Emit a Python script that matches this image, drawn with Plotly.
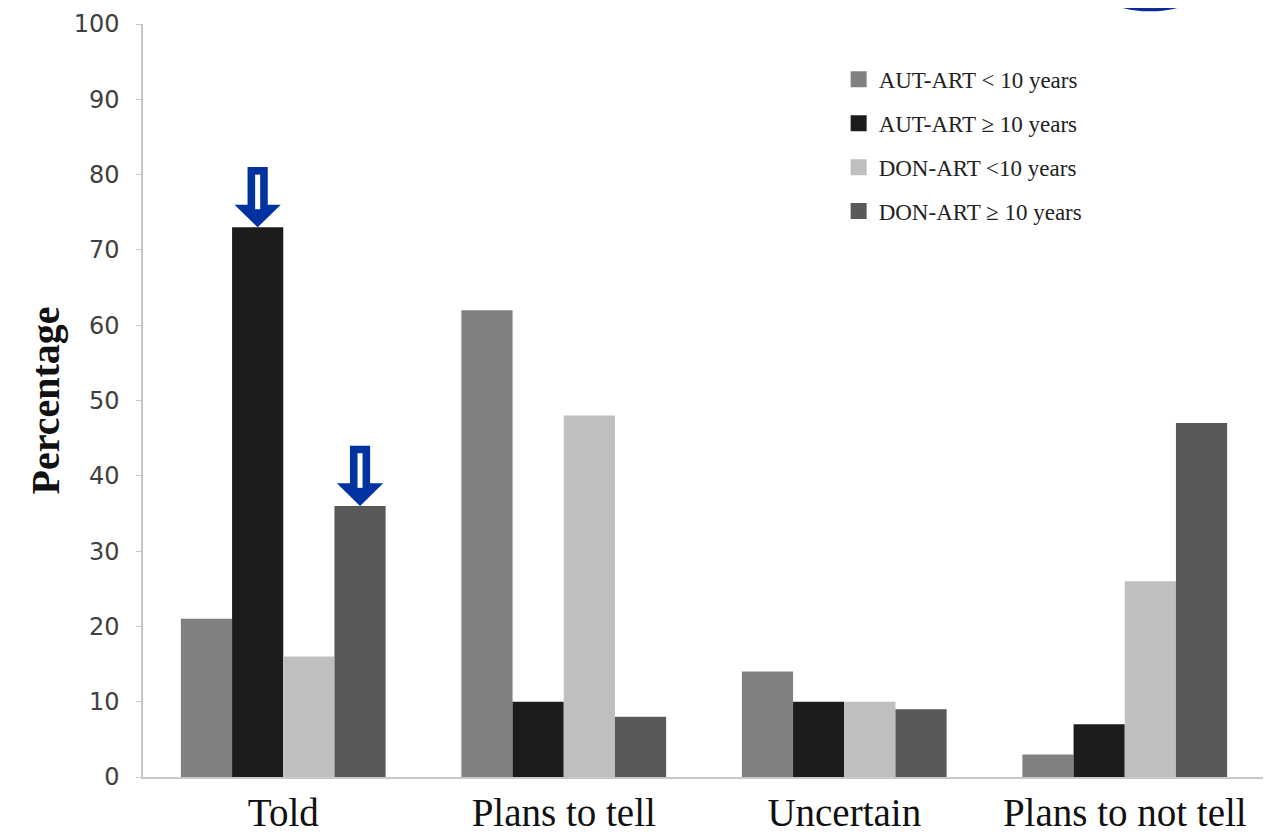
import plotly.graph_objects as go

categories = ["Told", "Plans to tell", "Uncertain", "Plans to not tell"]
series_names = ["AUT-ART < 10 years", "AUT-ART \u2265 10 years", "DON-ART <10 years", "DON-ART \u2265 10 years"]
aut_lt10 = [21, 62, 14, 3]
aut_ge10 = [73, 10, 10, 7]
don_lt10 = [16, 48, 10, 26]
don_ge10 = [36, 8, 9, 47]
series_values = [aut_lt10, aut_ge10, don_lt10, don_ge10]
colors = ["#808080", "#1c1c1c", "#bfbfbf", "#595959"]
y_ticks = list(range(0, 101, 10))
# arrows point at: (series index, category index)
arrow_targets = [(1, 0), (3, 0)]

BARGAP = 0.27

fig = go.Figure()
for name, vals, col in zip(series_names, series_values, colors):
    fig.add_trace(go.Bar(x=categories, y=vals, name=name, marker=dict(color=col, line=dict(width=0)),
                         showlegend=False))
# legend entries with larger square swatches
for name, col in zip(series_names, colors):
    fig.add_trace(go.Scatter(x=[None], y=[None], mode="markers", name=name, legendgroup=name,
                             marker=dict(symbol="square", size=22, color=col)))

# block arrows computed from bar positions
nser = len(series_values)
bw = (1 - BARGAP) / nser
head_w = 0.165
shaft_w = 0.072
stripe_w = 0.018
arrow_color = "#0033a0"
for si, ci in arrow_targets:
    xc = ci - (1 - BARGAP) / 2 + (si + 0.5) * bw
    tip = series_values[si][ci]
    hb = tip + 3.0
    top = tip + 8.0
    path = (f"M {xc - shaft_w/2} {top} L {xc + shaft_w/2} {top} L {xc + shaft_w/2} {hb} "
            f"L {xc + head_w/2} {hb} L {xc} {tip} L {xc - head_w/2} {hb} L {xc - shaft_w/2} {hb} Z")
    fig.add_shape(type="path", path=path, xref="x", yref="y", fillcolor=arrow_color,
                  line=dict(width=0), layer="above")
    fig.add_shape(type="rect", x0=xc - stripe_w/2, x1=xc + stripe_w/2, y0=top - 1.0, y1=hb - 0.6,
                  xref="x", yref="y", fillcolor="white", line=dict(width=0), layer="above")

# sliver of a logo at the very top right
fig.add_shape(type="circle", xref="paper", yref="paper", x0=0.845, x1=0.95, y0=1.0188, y1=1.1,
              fillcolor="#9b3050", line=dict(color="#0a2a9a", width=3), layer="above")

fig.update_layout(
    width=1271, height=839,
    paper_bgcolor="white", plot_bgcolor="white",
    margin=dict(l=135, r=14, t=16, b=70, autoexpand=False),
    barmode="group", bargap=BARGAP, bargroupgap=0,
    showlegend=True,
    legend=dict(x=0.62, y=0.955, xanchor="left", yanchor="top",
                font=dict(family="Liberation Serif, Times New Roman, serif", size=23, color="#222222"),
                tracegroupgap=11, bgcolor="rgba(0,0,0,0)", itemwidth=30, itemsizing="trace"),
    xaxis=dict(showline=True, linecolor="#c8c8c8", linewidth=1.5, ticks="", showgrid=False,
               ticklabelstandoff=0, automargin=False,
               tickfont=dict(family="Liberation Serif, Times New Roman, serif", size=39, color="#111111"),
               range=[-0.5, 3.5]),
    yaxis=dict(range=[0, 100], tickvals=y_ticks, showgrid=False, zeroline=False,
               showline=True, linecolor="#c8c8c8", linewidth=1.5, ticks="outside", ticklen=5,
               tickcolor="#c8c8c8", ticklabelstandoff=12, ticklabeloverflow="allow", automargin=False,
               tickfont=dict(family="DejaVu Sans, Verdana, sans-serif", size=24, color="#404040"),
               title=dict(text="<b>Percentage</b>", standoff=2,
                          font=dict(family="Liberation Serif, Times New Roman, serif", size=40, color="#111111"))),
)

fig.write_html("out.html")
